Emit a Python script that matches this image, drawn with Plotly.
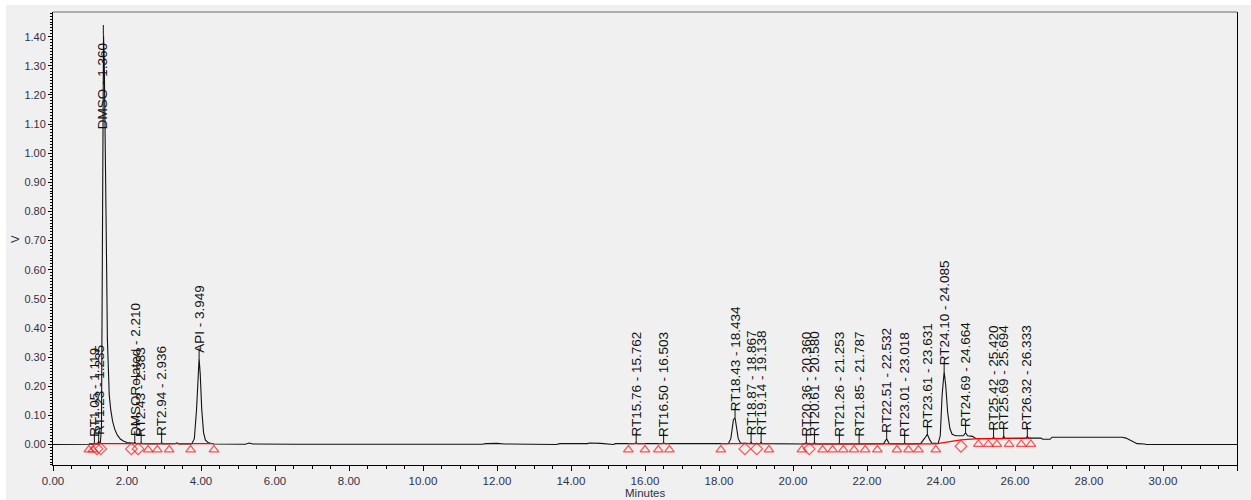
import plotly.graph_objects as go

# ---------------- data ----------------
time_min = [0.0, 1.00, 1.10, 1.119, 1.14, 1.21, 1.235, 1.25, 1.28, 1.31, 1.33, 1.35, 1.365,
            1.385, 1.41, 1.43, 1.45, 1.47, 1.49, 1.52, 1.56, 1.61, 1.67, 1.74, 1.82, 1.90,
            2.00, 2.10, 2.19, 2.21, 2.23, 2.37, 2.383, 2.40, 2.50, 2.70, 2.92, 2.936, 2.95,
            3.10, 3.30, 3.35, 3.40, 3.75, 3.82, 3.88, 3.93, 3.949, 3.98, 4.02, 4.07, 4.12,
            4.20, 4.35, 5.20, 5.30, 5.40, 6.50, 11.60, 11.70, 12.00, 12.20, 13.60, 13.70,
            14.45, 14.50, 14.80, 15.00, 15.15, 15.20, 15.70, 15.762, 15.80, 16.45, 16.503,
            16.55, 18.25, 18.32, 18.39, 18.434, 18.47, 18.52, 18.58, 18.85, 18.867, 18.89,
            19.12, 19.138, 19.16, 20.30, 20.36, 20.40, 20.56, 20.58, 20.60, 21.24, 21.253,
            21.27, 21.77, 21.787, 21.80, 22.45, 22.532, 22.60, 23.00, 23.018, 23.04, 23.45,
            23.55, 23.631, 23.70, 23.75, 23.92, 23.98, 24.03, 24.085, 24.13, 24.18, 24.24,
            24.30, 24.40, 24.60, 24.664, 24.72, 24.85, 24.95, 25.40, 25.42, 25.44, 25.67,
            25.694, 25.72, 26.30, 26.333, 26.36, 26.70, 26.75, 26.95, 27.00, 28.90, 29.00,
            29.10, 29.20, 29.30, 29.50, 29.55, 32.00]
signal_v = [0.0, 0.0, 0.001, 0.006, 0.002, 0.002, 0.012, 0.004, 0.006, 0.06, 0.50, 1.20, 1.405,
            1.32, 1.10, 0.85, 0.60, 0.36, 0.24, 0.17, 0.12, 0.08, 0.052, 0.032, 0.019, 0.012,
            0.007, 0.005, 0.004, 0.010, 0.004, 0.003, 0.006, 0.003, 0.002, 0.002, 0.003, 0.008, 0.002,
            0.002, 0.003, 0.006, 0.002, 0.002, 0.02, 0.12, 0.27, 0.295, 0.24, 0.12, 0.04, 0.015,
            0.006, 0.002, 0.001, 0.005, 0.002, 0.001, 0.001, 0.003, 0.004, 0.002, 0.0, 0.003,
            0.003, 0.005, 0.004, 0.001, 0.0, 0.003, 0.003, 0.006, 0.003, 0.003, 0.006,
            0.003, 0.003, 0.02, 0.085, 0.092, 0.06, 0.02, 0.005, 0.003, 0.010, 0.003,
            0.003, 0.010, 0.003, 0.002, 0.006, 0.002, 0.002, 0.008, 0.002, 0.002, 0.006,
            0.002, 0.002, 0.006, 0.002, 0.003, 0.020, 0.003, 0.002, 0.006, 0.002, 0.003,
            0.020, 0.035, 0.015, 0.005, 0.003, 0.03, 0.17, 0.25, 0.20, 0.11, 0.055,
            0.035, 0.030, 0.030, 0.040, 0.030, 0.028, 0.020, 0.020, 0.028, 0.020, 0.020,
            0.030, 0.021, 0.021, 0.028, 0.022, 0.022, 0.018, 0.018, 0.025, 0.025, 0.022,
            0.015, 0.008, 0.003, 0.002, 0.0, 0.0]

peak_labels = ["RT1.05 - 1.119", "RT1.23 - 1.235", "DMSO - 1.360", "DMSORelated - 2.210",
               "RT2.43 - 2.383", "RT2.94 - 2.936", "API - 3.949", "RT15.76 - 15.762",
               "RT16.50 - 16.503", "RT18.43 - 18.434", "RT18.87 - 18.867", "RT19.14 - 19.138",
               "RT20.36 - 20.360", "RT20.61 - 20.580", "RT21.26 - 21.253", "RT21.85 - 21.787",
               "RT22.51 - 22.532", "RT23.01 - 23.018", "RT23.61 - 23.631", "RT24.10 - 24.085",
               "RT24.69 - 24.664", "RT25.42 - 25.420", "RT25.69 - 25.694", "RT26.32 - 26.333"]
peak_rt = [1.119, 1.235, 1.360, 2.210, 2.383, 2.936, 3.949, 15.762, 16.503, 18.434, 18.867,
           19.138, 20.360, 20.580, 21.253, 21.787, 22.532, 23.018, 23.631, 24.085, 24.664,
           25.420, 25.694, 26.333]
peak_apex = [0.006, 0.012, 1.405, 0.010, 0.006, 0.008, 0.295, 0.006, 0.006, 0.092, 0.010,
             0.010, 0.006, 0.008, 0.006, 0.006, 0.020, 0.006, 0.035, 0.250, 0.040,
             0.028, 0.030, 0.028]

marker_t = [0.97, 1.08, 1.19, 1.29, 2.12, 2.30, 2.57, 2.82, 3.14, 3.72, 4.35, 15.55, 16.00,
            16.36, 16.66, 18.05, 18.70, 19.02, 19.35, 20.24, 20.44, 20.80, 21.07, 21.36,
            21.65, 21.95, 22.28, 22.81, 23.12, 23.39, 23.86, 24.54, 25.01, 25.28, 25.51,
            25.84, 26.17, 26.43]
marker_v = [-0.018, -0.018, -0.015, -0.015, -0.015, -0.015, -0.018, -0.018, -0.018, -0.018,
            -0.018, -0.018, -0.018, -0.018, -0.018, -0.018, -0.015, -0.015, -0.018, -0.018,
            -0.015, -0.018, -0.018, -0.018, -0.018, -0.018, -0.018, -0.018, -0.018, -0.018,
            -0.018, -0.006, 0.001, 0.001, 0.001, 0.001, 0.001, 0.001]
marker_kind = ["t", "t", "d", "d", "d", "d", "t", "t", "t", "t", "t", "t", "t", "t", "t",
               "t", "d", "d", "t", "t", "d", "t", "t", "t", "t", "t", "t", "t", "t", "t",
               "t", "d", "t", "t", "t", "t", "t", "t"]

baseline_t = [0.97, 4.35, None, 15.55, 16.00, None, 16.36, 16.66, None, 18.05, 19.35, None,
              20.24, 23.86, 24.54, 25.01, 26.43]
baseline_v = [0.003, 0.003, None, 0.003, 0.003, None, 0.003, 0.003, None, 0.003, 0.003, None,
              0.002, 0.002, 0.016, 0.020, 0.022]

x_ticks = [f"{v:.2f}" for v in range(0, 33, 2)]

# ---------------- figure ----------------
BG = "#f0f0f0"
TXT = "#303048"
TICK_LEN_V = 0.035  # label tick above the apex (V)

fig = go.Figure()

fig.add_trace(go.Scatter(x=time_min, y=signal_v, mode="lines",
                         line=dict(color="#111111", width=1.1), hoverinfo="skip"))

fig.add_trace(go.Scatter(x=baseline_t, y=baseline_v, mode="lines",
                         line=dict(color="#ff0000", width=1.2), connectgaps=False,
                         hoverinfo="skip"))

# label tick lines
tick_x, tick_y = [], []
for rt, ap in zip(peak_rt, peak_apex):
    tick_x += [rt, rt, None]
    tick_y += [ap, ap + TICK_LEN_V, None]
fig.add_trace(go.Scatter(x=tick_x, y=tick_y, mode="lines",
                         line=dict(color="#111111", width=1), hoverinfo="skip"))

sym_map = {"t": "triangle-up-open", "d": "diamond-open"}
size_map = {"t": 8.5, "d": 9}
fig.add_trace(go.Scatter(
    x=marker_t, y=marker_v, mode="markers",
    marker=dict(symbol=[sym_map[k] for k in marker_kind],
                size=[size_map[k] for k in marker_kind],
                color="#ff1010", line=dict(color="#ff1010", width=1.2)),
    hoverinfo="skip"))

annotations = []
for txt, rt, ap in zip(peak_labels, peak_rt, peak_apex):
    if ap > 1.0:
        # label does not fit above the apex: drawn down from the top
        annotations.append(dict(x=rt - 0.03, y=1.385, xref="x", yref="y", text=txt,
                                textangle=-90, showarrow=False, xanchor="center",
                                yanchor="top", font=dict(family="Liberation Sans, Arial",
                                                         size=13.5, color="#111111")))
    else:
        annotations.append(dict(x=rt, y=ap, xref="x", yref="y", text=txt, textangle=-90,
                                showarrow=False, xanchor="center", yanchor="bottom",
                                yshift=4, font=dict(family="Liberation Sans, Arial",
                                                    size=13.5, color="#111111")))

annotations.append(dict(x=0.5, y=-0.062, xref="paper", yref="paper", text="Minutes",
                        showarrow=False, xanchor="center", yanchor="middle",
                        font=dict(family="Liberation Sans, Arial", size=11.5, color=TXT)))
annotations.append(dict(x=-0.032, y=0.499, xref="paper", yref="paper", text="V",
                        textangle=-90, showarrow=False, xanchor="center", yanchor="middle",
                        font=dict(family="Liberation Sans, Arial", size=11.5, color=TXT)))

W, H = 1251, 500
ML, MR, MT, MB = 53, 14, 12, 35
pw, ph = W - ML - MR, H - MT - MB

shapes = [
    dict(type="rect", xref="paper", yref="paper", layer="below",
         x0=(6 - ML) / pw, x1=(W - ML) / pw, y0=-MB / ph, y1=1 + (MT - 5) / ph,
         fillcolor=BG, line=dict(width=0)),
    dict(type="line", xref="paper", yref="paper", x0=0, x1=1, y0=1, y1=1,
         line=dict(color="#6a6a6a", width=1)),
]

fig.update_layout(
    width=W, height=H,
    margin=dict(l=ML, r=MR, t=MT, b=MB, autoexpand=False),
    paper_bgcolor="#ffffff", plot_bgcolor=BG,
    showlegend=False,
    annotations=annotations, shapes=shapes,
    font=dict(family="Liberation Sans, Arial", size=11, color=TXT),
    xaxis=dict(range=[0, 32], tickvals=list(range(0, 33, 2)), ticktext=x_ticks,
               showgrid=False, zeroline=False, showline=True, linecolor="#000000",
               linewidth=1, mirror=False, ticks="outside", ticklen=5, tickcolor="#000000",
               tickfont=dict(size=11.5, color=TXT),
               minor=dict(dtick=0.5, ticks="outside", ticklen=3, tickcolor="#000000",
                          showgrid=False)),
    yaxis=dict(range=[-0.0703, 1.4846], dtick=0.1, tick0=0, tickformat=".2f",
               showgrid=False, zeroline=False, showline=True, linecolor="#000000",
               linewidth=1, mirror=True, ticks="outside", ticklen=4, tickcolor="#000000",
               tickfont=dict(size=11, color=TXT),
               minor=dict(dtick=0.01, ticks="outside", ticklen=2, tickcolor="#000000",
                          showgrid=False)),
)

fig.write_html("out.html", config={"displayModeBar": False},
               post_script="document.body.style.margin='0';document.body.style.overflow='hidden';")
